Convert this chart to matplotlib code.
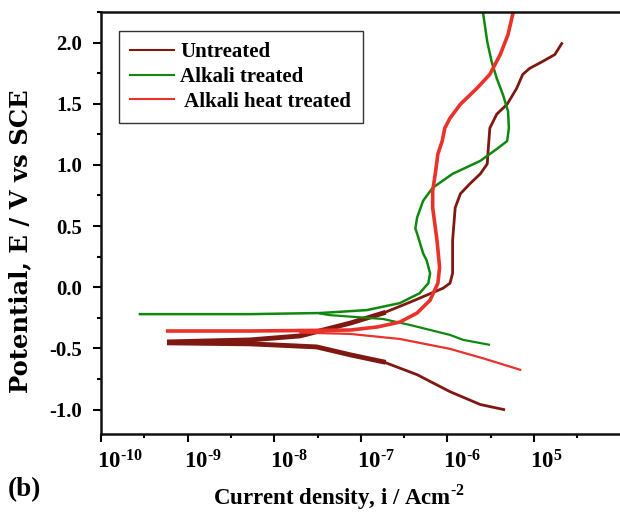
import numpy as np
import matplotlib
matplotlib.use("Agg")
import matplotlib.pyplot as plt
import matplotlib.transforms as mtransforms
from matplotlib.ticker import FixedLocator, NullFormatter

plt.rcParams['font.family'] = ['Liberation Serif', 'DejaVu Serif']
plt.rcParams['font.weight'] = 'bold'
plt.rcParams['mathtext.fontset'] = 'custom'
plt.rcParams['mathtext.rm'] = 'Liberation Serif:bold'
plt.rcParams['mathtext.bf'] = 'Liberation Serif:bold'
plt.rcParams['axes.unicode_minus'] = False

# log10 of current density (A/cm2) and potential (V vs SCE)
untreated_an_logi = [-9.21, -8.28, -7.70, -7.12, -6.74, -6.43, -6.05, -5.97, -5.94, -5.94, -5.91,
                     -5.85, -5.74, -5.62, -5.54, -5.53, -5.51, -5.43, -5.31, -5.20, -5.13, -5.05,
                     -4.90, -4.76, -4.68]
untreated_an_E = [-0.447, -0.431, -0.398, -0.293, -0.211, -0.122, -0.008, 0.033, 0.114, 0.382, 0.650,
                  0.764, 0.846, 0.927, 1.008, 1.114, 1.301, 1.415, 1.496, 1.626, 1.740, 1.789,
                  1.846, 1.902, 1.992]
untreated_ca_logi = [-9.21, -8.28, -7.51, -7.12, -6.74, -6.35, -5.97, -5.62, -5.35]
untreated_ca_E = [-0.455, -0.463, -0.488, -0.553, -0.610, -0.715, -0.854, -0.959, -1.0]

alkali_an_logi = [-9.55, -8.28, -7.47, -6.93, -6.55, -6.32, -6.22, -6.20, -6.24, -6.28, -6.35, -6.37,
                  -6.35, -6.28, -6.17, -5.94, -5.62, -5.43, -5.31, -5.29, -5.30, -5.36, -5.43,
                  -5.49, -5.54, -5.59]
alkali_an_E = [-0.22, -0.22, -0.211, -0.187, -0.130, -0.049, 0.033, 0.114, 0.22, 0.276, 0.439, 0.48,
               0.569, 0.707, 0.813, 0.927, 1.033, 1.130, 1.195, 1.301, 1.439, 1.577, 1.707,
               1.846, 2.008, 2.25]
alkali_ca_logi = [-7.47, -7.36, -6.74, -6.43, -5.97, -5.82, -5.52]
alkali_ca_E = [-0.215, -0.228, -0.26, -0.309, -0.39, -0.43, -0.47]

heat_an_logi = [-9.23, -8.28, -7.12, -6.81, -6.55, -6.35, -6.20, -6.11, -6.09, -6.12, -6.17, -6.17,
                -6.14, -6.11, -6.06, -6.03, -5.97, -5.85, -5.66, -5.51, -5.39, -5.30, -5.24]
heat_an_E = [-0.358, -0.358, -0.350, -0.325, -0.285, -0.211, -0.106, 0.033, 0.163, 0.382, 0.650, 0.789,
             0.927, 1.089, 1.195, 1.301, 1.382, 1.496, 1.626, 1.740, 1.902, 2.065, 2.25]
heat_ca_logi = [-7.70, -7.12, -6.55, -5.97, -5.57, -5.16]
heat_ca_E = [-0.37, -0.382, -0.423, -0.504, -0.585, -0.675]

labels = ['Untreated', 'Alkali treated', ' Alkali heat treated']
colors = ['#7e1811', '#0f880f', '#e8322a']
xtick_exp = [-10, -9, -8, -7, -6, -5]
# the last label really reads "10^5" in the original figure
xtick_labels = ['$\\mathbf{10^{\u201010}}$', '$\\mathbf{10^{\u20109}}$', '$\\mathbf{10^{\u20108}}$',
                '$\\mathbf{10^{\u20107}}$', '$\\mathbf{10^{\u20106}}$', '$\\mathbf{10^{5}}$']

fig = plt.figure(figsize=(6.2, 5.14), dpi=100)
ax = fig.add_axes([101/620, 80/514, 519/620, 422/514])

def pw(a):
    return 10.0 ** np.array(a)

# untreated: noisy thick band near Ecorr
ax.plot(pw(untreated_an_logi), untreated_an_E, color=colors[0], lw=2.0)
ax.plot(pw(untreated_an_logi[:5]), untreated_an_E[:5], color=colors[0], lw=3.5)
ax.plot(pw(untreated_ca_logi), untreated_ca_E, color=colors[0], lw=2.0, label=labels[0])
ax.plot(pw(untreated_ca_logi[:5]), untreated_ca_E[:5], color=colors[0], lw=3.5)

ax.plot(pw(alkali_an_logi), alkali_an_E, color=colors[1], lw=1.8)
ax.plot(pw(alkali_ca_logi), alkali_ca_E, color=colors[1], lw=1.6, label=labels[1])

ax.plot(pw(heat_an_logi), heat_an_E, color=colors[2], lw=2.6)
ax.plot(pw(heat_ca_logi), heat_ca_E, color=colors[2], lw=1.6, label=labels[2])

ax.set_xscale('log')
ax.set_xlim(1e-10, 10 ** -4.007)
ax.set_ylim(-1.2, 2.25)

ax.xaxis.set_major_locator(FixedLocator([10.0 ** e for e in xtick_exp]))
ax.xaxis.set_minor_locator(FixedLocator([10.0 ** (e + 0.5) for e in xtick_exp]))
ax.xaxis.set_minor_formatter(NullFormatter())
ax.set_xticklabels(xtick_labels)
ax.set_yticks(np.arange(-1.0, 2.01, 0.5))
ax.set_yticks(np.arange(-0.75, 2.26, 0.5), minor=True)
ax.set_yticklabels(['%.1f' % v for v in np.arange(-1.0, 2.01, 0.5)])

ax.tick_params(which='major', direction='out', length=5.5, width=1.5)
ax.tick_params(which='minor', direction='out', length=3, width=1.5)
ax.tick_params(axis='y', pad=8, labelsize=15)
ax.tick_params(axis='x', pad=6, labelsize=16.5)

offset = mtransforms.ScaledTranslation(-4/100, 0, fig.dpi_scale_trans)
for lab in ax.xaxis.get_majorticklabels():
    lab.set_horizontalalignment('left')
    lab.set_transform(lab.get_transform() + offset)

for s in ['left', 'bottom', 'top']:
    ax.spines[s].set_linewidth(1.8)
    ax.spines[s].set_color('#111111')
ax.spines['right'].set_visible(False)

fig.text(20/620, 1 - 241/514, 'Potential, E / V vs SCE', rotation=90, fontsize=17.5,
         fontweight='bold', family=['DejaVu Serif'], ha='center', va='center')
fig.text(339/620, 9/514, 'Current density, i / Acm$^{\\mathbf{\u20102}}$', fontsize=16.5,
         fontweight='bold', ha='center', va='baseline')
fig.text(8/620, 18/514, '(b)', fontsize=19.5, fontweight='bold', ha='left', va='baseline')

leg = ax.legend(loc='upper left', bbox_to_anchor=(0.0347, 0.955), borderaxespad=0,
                fancybox=False, edgecolor='#333333', fontsize=15, handlelength=2.1,
                handletextpad=0.3, labelspacing=0.22, borderpad=0.55, framealpha=1)
leg.get_frame().set_linewidth(1.0)
for ln in leg.get_lines():
    ln.set_linewidth(1.5)

fig.savefig('out.png', dpi=100)
